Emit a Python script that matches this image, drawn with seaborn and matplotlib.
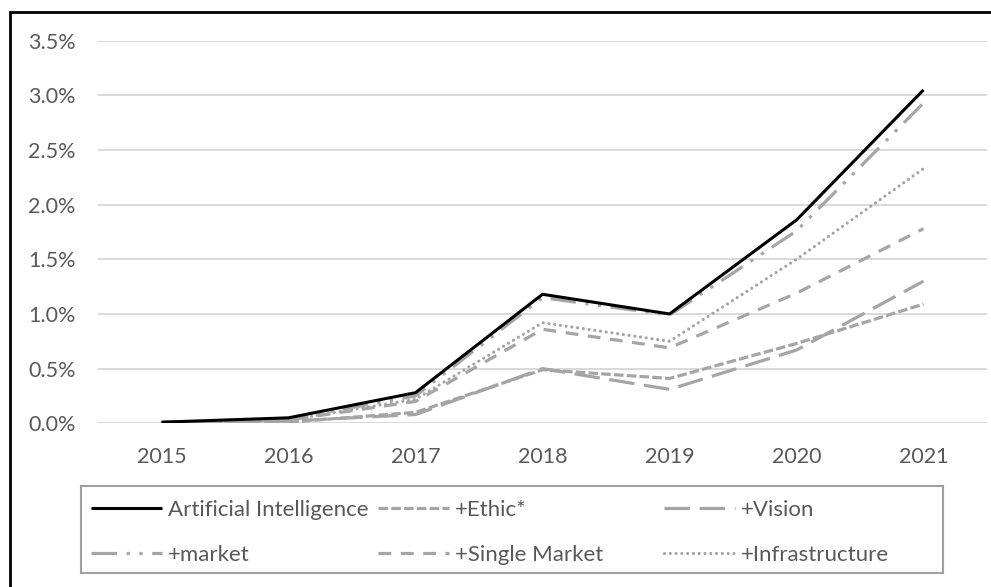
import pandas as pd
import matplotlib.pyplot as plt
import matplotlib.ticker as mtick
from matplotlib.lines import Line2D
from matplotlib.patches import Rectangle
import seaborn as sns

sns.set_theme(style="white")
plt.rcParams["font.family"] = ["Lato", "DejaVu Sans"]

TEXT = "#595959"
GRID = "#D9D9D9"
GRAY = "#A5A5A5"

# ── data (share of publications, %) ──────────────────────────────────────────
years = [2015, 2016, 2017, 2018, 2019, 2020, 2021]
ai = [0.01, 0.05, 0.28, 1.18, 1.00, 1.86, 3.05]
ethic = [0.00, 0.01, 0.10, 0.49, 0.41, 0.73, 1.09]
vision = [0.00, 0.02, 0.08, 0.50, 0.31, 0.67, 1.30]
market = [0.01, 0.04, 0.25, 1.15, 0.99, 1.76, 2.93]
single_market = [0.00, 0.03, 0.20, 0.86, 0.69, 1.19, 1.78]
infrastructure = [0.00, 0.03, 0.22, 0.92, 0.75, 1.50, 2.33]

series = [
    ("Artificial Intelligence", ai, "black", 2.2, "-", "butt"),
    ("+Ethic*", ethic, GRAY, 2.3, (0, (3, 1)), "butt"),
    ("+Vision", vision, GRAY, 2.3, (0, (8, 3)), "butt"),
    ("+market", market, GRAY, 2.3, (0, (8, 3, 1, 3, 1, 3)), "butt"),
    ("+Single Market", single_market, GRAY, 2.3, (0, (4, 3)), "butt"),
    ("+Infrastructure", infrastructure, GRAY, 2.3, (0, (0.01, 1.8)), "round"),
]

fig = plt.figure(figsize=(9.91, 5.87), dpi=100)
ax = fig.add_axes([0.0989, 0.2789, 0.8971, 0.6518])

# draw the gray series first so the black line stays on top
handles = {}
for name, vals, color, lw, ls, cap in series[1:] + series[:1]:
    df = pd.DataFrame({"year": years, "value": vals})
    sns.lineplot(data=df, x="year", y="value", ax=ax, color=color, linewidth=lw,
                 linestyle=ls, dash_capstyle=cap, solid_capstyle="butt")
    handles[name] = Line2D([], [], color=color, linewidth=lw, linestyle=ls,
                           dash_capstyle=cap, solid_capstyle="butt")

ax.set_xlim(2014.5, 2021.5)
ax.set_ylim(0, 3.5)
ax.set_xticks(years)
ax.set_yticks([0, 0.5, 1.0, 1.5, 2.0, 2.5, 3.0, 3.5])
ax.yaxis.set_major_formatter(mtick.FuncFormatter(lambda v, _: f"{v:.1f}%"))
ax.set_xlabel("")
ax.set_ylabel("")
ax.grid(axis="y", color=GRID, linewidth=1.4)
ax.set_axisbelow(True)
for s in ax.spines.values():
    s.set_visible(False)
ax.tick_params(axis="both", length=0, labelsize=15.5, labelcolor=TEXT)
ax.tick_params(axis="y", pad=16)
ax.tick_params(axis="x", pad=17)

# legend: three equal-width columns inside one frame
fs = 16
fs_px = fs * 100 / 72
cols = [("Artificial Intelligence", "+market"),
        ("+Ethic*", "+Single Market"),
        ("+Vision", "+Infrastructure")]
col_x = [91 / 991, 378 / 991, 664 / 991]
for x, names in zip(col_x, cols):
    fig.legend([handles[n] for n in names], names, loc="center left",
               bbox_to_anchor=(x, 1 - 532.5 / 587), frameon=False,
               borderpad=0, borderaxespad=0, fontsize=fs, labelcolor=TEXT,
               handlelength=71 / fs_px, handletextpad=6 / fs_px,
               labelspacing=1.13)

fig.patches.append(Rectangle((81 / 991, 1 - 572.7 / 587), (943 - 81) / 991,
                             (572.7 - 485.7) / 587, transform=fig.transFigure,
                             fill=False, edgecolor="#A0A0A0", linewidth=1.5))
# outer chart border (clipped at the right and bottom in the reference)
fig.patches.append(Rectangle((10 / 991, -0.1), 1.2, 1.1 - 12 / 587,
                             transform=fig.transFigure, fill=False,
                             edgecolor="black", linewidth=2))

plt.savefig("out.png", dpi=100)
plt.close()
